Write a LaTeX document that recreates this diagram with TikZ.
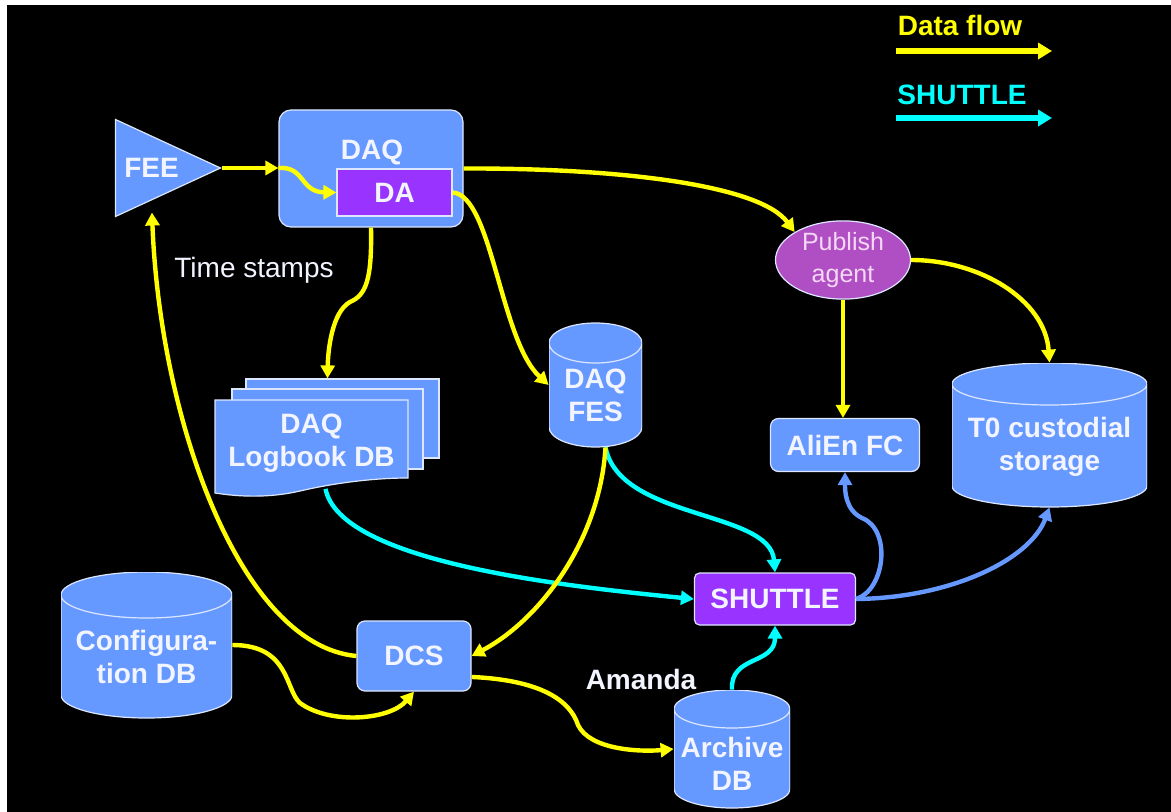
\documentclass[tikz,border=0pt]{standalone}
\usepackage{fontspec}
\setmainfont{Liberation Sans}
\usetikzlibrary{arrows.meta,calc,shapes.geometric}
\definecolor{dqBlue}{HTML}{6699FF}
\definecolor{dqPurple}{HTML}{9933FF}
\definecolor{dqPink}{HTML}{B04EC4}
\definecolor{dqPinkText}{HTML}{F5D8F5}
\definecolor{dqYellow}{HTML}{FFFF00}
\definecolor{dqCyan}{HTML}{00FFFF}
\definecolor{dqEdge}{HTML}{DDE6FF}
\definecolor{dqText}{HTML}{F2F4FF}
\tikzset{
  dqfont/.style={font=\fontsize{14}{16.5}\selectfont\bfseries},
  dqbox/.style={rectangle,rounded corners=4pt,draw=dqEdge,line width=0.6pt,
                fill=dqBlue,text=dqText,dqfont,align=center,inner sep=0pt},
  dqproc/.style={dqbox,fill=dqPurple,rounded corners=2.5pt},
  dqpage/.style={rectangle,draw=dqEdge,line width=0.6pt,fill=dqBlue},
  % database drum, #1 = half height of the end ellipse
  dqdb/.style={rectangle,inner sep=0pt,text=dqText,dqfont,align=center,
    path picture={
      \filldraw[fill=dqBlue,draw=dqEdge,line width=0.6pt]
        let \p1=(path picture bounding box.north west),
            \p2=(path picture bounding box.south east) in
        (\x1,{\y1-#1}) -- (\x1,{\y2+#1})
        arc[start angle=180,end angle=360,x radius={(\x2-\x1)/2},y radius=#1]
        -- (\x2,{\y1-#1})
        arc[start angle=0,end angle=180,x radius={(\x2-\x1)/2},y radius=#1]
        -- cycle
        (\x1,{\y1-#1})
        arc[start angle=180,end angle=360,x radius={(\x2-\x1)/2},y radius=#1];
    }},
  dqlabel/.style={text=dqText,dqfont,align=center,inner sep=0pt},
  dqflow/.style={-{Triangle[length=6.5pt,width=7pt]},line width=2.2pt,dqYellow},
  dqshuttle/.style={dqflow,dqCyan},
  dqstore/.style={dqflow,dqBlue}
}

\begin{document}
\begin{tikzpicture}[x=0.5pt,y=-0.5pt]
  \useasboundingbox (0,0) rectangle (1171,812);
  \fill[white] (0,0) rectangle (1171,812);
  \fill[black] (7,5) rectangle (1171,812);

  % legend
  \node[dqlabel,text=dqYellow] (flowkey) at (960,25) {Data flow};
  \coordinate (flowa) at (896,51);
  \coordinate (flowb) at (1052,51);
  \draw[dqflow,line width=3pt,-{Triangle[length=7pt,width=8pt]}] (flowa) -- (flowb);
  \node[dqlabel,text=dqCyan] (shutkey) at (962,95) {SHUTTLE};
  \coordinate (shuta) at (896,118);
  \coordinate (shutb) at (1052,118);
  \draw[dqshuttle,line width=3pt,-{Triangle[length=7pt,width=8pt]}] (shuta) -- (shutb);

  % front end and DAQ
  \node[dqbox,sharp corners,isosceles triangle,isosceles triangle stretches,
        minimum width=48.5pt,minimum height=52.5pt] (fee) at (151.5,168) {FEE};
  \node[dqbox,rounded corners=6pt,minimum width=92pt,minimum height=58.5pt]
    (daq) at (371,168.5) {};
  \node[dqlabel] (daqname) at (372,152) {DAQ};
  \node[dqproc,sharp corners,minimum width=57.5pt,minimum height=23.5pt]
    (da) at (394.5,192.5) {DA};
  \node[dqlabel,font=\fontsize{14}{16.5}\selectfont] (stamps) at (254,270)
    {Time stamps};

  % logbook pages
  \node[dqpage,minimum width=96.5pt,minimum height=39.5pt] (logback)
    at (342.5,418.5) {};
  \node[dqpage,minimum width=95.5pt,minimum height=40pt] (logmid)
    at (327.5,429) {};
  \filldraw[fill=dqBlue,draw=dqEdge,line width=0.6pt]
    (215,400) -- (408,400) -- (408,478)
    .. controls (370,478) and (330,484) .. (300,491)
    .. controls (270,498) and (240,497) .. (215,493) -- cycle;
  \node[dqlabel,minimum width=96.5pt,minimum height=53pt] (log)
    at (311.5,443.5) {DAQ\\Logbook DB};

  % storage
  \node[dqdb=10pt,minimum width=46.5pt,minimum height=62pt,text height=36.2pt]
    (fes) at (595.5,385) {DAQ\\FES};
  \node[dqdb=10.5pt,minimum width=97.5pt,minimum height=72pt,text height=38.2pt]
    (t0) at (1049.5,435) {T0 custodial\\storage};
  \node[dqdb=11.5pt,minimum width=85.5pt,minimum height=73pt,text height=38.2pt]
    (config) at (146.5,645) {Configura-\\tion DB};
  \node[dqdb=9.5pt,minimum width=58pt,minimum height=59pt,text height=41.2pt]
    (archive) at (732,749) {Archive\\DB};

  % services
  \node[ellipse,draw=dqEdge,line width=0.6pt,fill=dqPink,text=dqPinkText,
        font=\fontsize{12.5}{16}\selectfont,align=center,inner sep=0pt,
        minimum width=67.5pt,minimum height=34pt] (pub) at (843,260)
    {Publish\\agent};
  \node[dqbox,minimum width=74.5pt,minimum height=26.5pt] (alien)
    at (845,445) {AliEn FC};
  \node[dqproc,minimum width=80.5pt,minimum height=26pt] (shuttle)
    at (775,599) {SHUTTLE};
  \node[dqbox,minimum width=57pt,minimum height=35pt] (dcs) at (414,656) {DCS};
  \node[dqlabel] (amanda) at (641,679) {Amanda};

  \coordinate (fesout) at ($(fes.south)+(10,0)$);

  % shuttle inputs
  \draw[dqshuttle] ([xshift=7pt,yshift=4pt]log.south)
    .. controls (340,560) and (550,585) .. (shuttle.west);
  \draw[dqshuttle] (fesout)
    .. controls (620,520) and (770,510) .. (shuttle.north);
  \draw[dqshuttle] (archive.north)
    .. controls (730,655) and (775,665) .. (shuttle.south);

  % shuttle outputs
  \draw[dqstore] (shuttle.east)
    .. controls (885,590) and (892,530) .. (862,518)
    .. controls (845,510) and (845,490) .. (alien.south);
  \draw[dqstore] (shuttle.east)
    .. controls (950,598) and (1030,560) .. (t0.south);

  % data flow
  \coordinate (daqin) at (daq.west |- fee.east);
  \draw[dqflow] (fee.east) -- (daqin);
  \draw[dqflow] (daqin) .. controls (305,166) and (300,192) .. (da.west);
  \draw[dqflow] (daq.east) .. controls (620,168) and (760,185) .. (pub.150);
  \draw[dqflow] (da.east) .. controls (492,195) and (500,340) .. (fes.west);
  \draw[dqflow] (daq.south) .. controls (372,280) and (366,295) .. (350,302)
    .. controls (332,312) and (328,350) .. ([xshift=-7.5pt]logback.north);
  \draw[dqflow] (pub.south) -- (pub.south |- alien.north);
  \draw[dqflow] (pub.east) .. controls (980,260) and (1045,300) .. (t0.north);
  \draw[dqflow] (fesout) .. controls (600,540) and (540,620) .. (dcs.east);
  \draw[dqflow,shorten >=6pt] (dcs.west)
    .. controls (240,645) and (160,420) .. (fee.south);
  \draw[dqflow] (config.east) .. controls (290,645) and (285,690) .. (300,703)
    .. controls (330,725) and (390,720) .. (dcs.south);
  \draw[dqflow] (dcs.-20) .. controls (540,680) and (570,700) .. (578,725)
    .. controls (590,750) and (640,752) .. (archive.west);
\end{tikzpicture}
\end{document}
